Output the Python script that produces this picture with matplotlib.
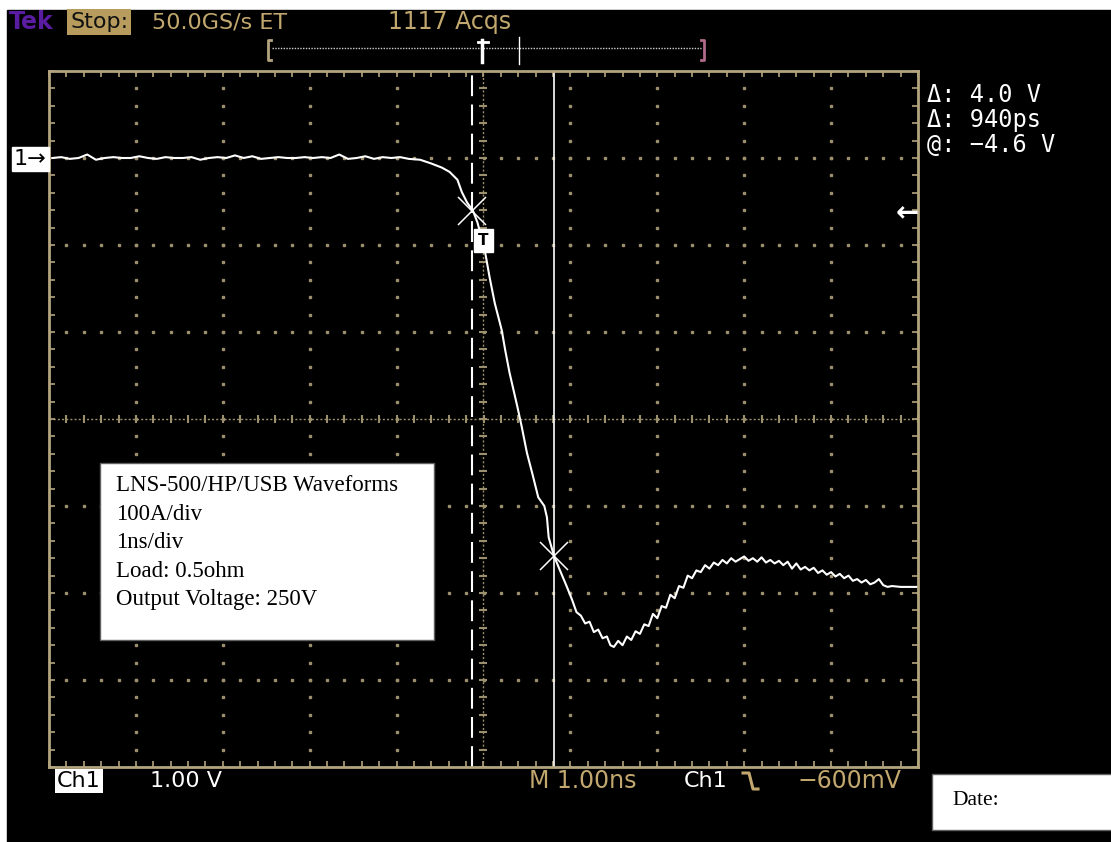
import matplotlib
matplotlib.use("Agg")
import matplotlib.pyplot as plt
from matplotlib.patches import Rectangle
import numpy as np

# waveform: time in ns (1 ns/div), level in V (1 V/div)
t_ns = [-4.96, -4.86, -4.76, -4.66, -4.56, -4.46, -4.36, -4.26, -4.16, -4.06,
        -3.96, -3.86, -3.76, -3.66, -3.56, -3.46, -3.36, -3.26, -3.16, -3.06,
        -2.96, -2.86, -2.76, -2.66, -2.56, -2.46, -2.36, -2.26, -2.16, -2.06,
        -1.96, -1.86, -1.76, -1.66, -1.56, -1.46, -1.36, -1.26, -1.16, -1.06,
        -0.96, -0.86,
        -0.73, -0.61, -0.48, -0.39, -0.30, -0.25, -0.19, -0.12, -0.07, -0.03,
        0.02, 0.07, 0.13, 0.21, 0.25, 0.30, 0.39, 0.44, 0.50, 0.56,
        0.63, 0.70, 0.73, 0.75, 0.81, 0.88, 0.96, 1.02, 1.07, 1.12,
        1.17, 1.22, 1.27, 1.32, 1.37, 1.42, 1.46,
        1.50, 1.55, 1.60, 1.65, 1.70, 1.75, 1.80, 1.85, 1.90, 1.95,
        2.00, 2.05, 2.10, 2.15, 2.20, 2.25, 2.30, 2.35, 2.40, 2.45,
        2.50, 2.55, 2.60, 2.65, 2.70, 2.75, 2.80, 2.85, 2.90, 2.95,
        3.00, 3.05, 3.10, 3.15, 3.20, 3.25, 3.30, 3.35, 3.40, 3.45,
        3.50, 3.55, 3.60, 3.65, 3.70, 3.75, 3.80, 3.85, 3.90, 3.95,
        4.00, 4.05, 4.10, 4.15, 4.20, 4.25, 4.30, 4.35, 4.40, 4.45,
        4.50, 4.55, 4.60, 4.65, 4.70, 4.80, 4.98]
v_volt = [3.00, 3.01, 2.99, 3.00, 3.04, 2.98, 3.00, 3.01, 3.00, 3.00,
          3.02, 3.00, 2.99, 3.01, 3.00, 3.00, 3.01, 2.98, 3.00, 3.01,
          3.00, 3.03, 3.00, 3.02, 2.99, 3.00, 3.01, 3.00, 3.00, 3.01,
          3.00, 3.01, 3.00, 3.04, 2.99, 3.00, 3.02, 2.99, 3.01, 3.00,
          3.01, 2.99,
          2.98, 2.94, 2.89, 2.84, 2.75, 2.61, 2.49, 2.39, 2.26, 2.11,
          1.91, 1.63, 1.33, 1.02, 0.79, 0.53, 0.14, -0.09, -0.39, -0.62,
          -0.90, -1.00, -1.13, -1.36, -1.57, -1.74, -1.93, -2.08, -2.22, -2.26,
          -2.35, -2.33, -2.45, -2.42, -2.52, -2.50, -2.60,
          -2.62, -2.55, -2.60, -2.50, -2.54, -2.44, -2.47, -2.36, -2.38, -2.24,
          -2.29, -2.15, -2.17, -2.02, -2.06, -1.92, -1.94, -1.80, -1.83, -1.74,
          -1.76, -1.68, -1.72, -1.65, -1.68, -1.62, -1.66, -1.60, -1.64, -1.61,
          -1.58, -1.63, -1.60, -1.64, -1.59, -1.65, -1.62, -1.66, -1.63, -1.68,
          -1.64, -1.72, -1.66, -1.73, -1.70, -1.74, -1.71, -1.77, -1.74, -1.79,
          -1.76, -1.81, -1.78, -1.83, -1.80, -1.86, -1.84, -1.88, -1.85, -1.90,
          -1.88, -1.84, -1.91, -1.93, -1.92, -1.93, -1.93]

cursor_t = [-0.13, 0.81]
cursor_v = [2.39, -1.57]

readouts = ["\u0394: 4.0 V", "\u0394: 940ps", "@: \u22124.6 V"]
notes = ["LNS-500/HP/USB Waveforms", "100A/div", "1ns/div",
         "Load: 0.5ohm", "Output Voltage: 250V"]

W, H = 1111, 842
tan = "#b3a47e"
grid_c = "#9c8f6e"
text_tan = "#c2a86e"
scope_font = dict(family="DejaVu Sans")

fig = plt.figure(figsize=(W / 100, H / 100), dpi=100, facecolor="white")

# background layer (pixel coordinates)
bg = fig.add_axes([0, 0, 1, 1], zorder=-1)
bg.set_xlim(0, W)
bg.set_ylim(H, 0)
bg.axis("off")
bg.add_patch(Rectangle((7, 10), W - 7, H - 10, color="black"))

# graticule axes
gl, gr, gt, gb = 49, 918, 71, 767
ax = fig.add_axes([gl / W, 1 - gb / H, (gr - gl) / W, (gb - gt) / H], zorder=1)
ax.set_facecolor("black")
ax.set_xlim(-5, 5)
ax.set_ylim(-4, 4)
for s in ax.spines.values():
    s.set_color(tan)
    s.set_linewidth(2)
ax.set_xticks(np.arange(-5, 5.01, 1))
ax.set_yticks(np.arange(-4, 4.01, 1))
ax.set_xticks(np.arange(-5, 5.01, 0.2), minor=True)
ax.set_yticks(np.arange(-4, 4.01, 0.2), minor=True)
ax.tick_params(which="both", direction="in", colors=tan, top=True, right=True,
               labelbottom=False, labelleft=False, length=4, width=1.2)

minor_pts = np.arange(-4, 4.01, 0.2)
minor_x = np.arange(-5, 5.01, 0.2)
for gx in range(-4, 5):
    if gx == 0:
        continue
    ax.plot(np.full_like(minor_pts, gx), minor_pts, ls="none", marker="s",
            ms=1.5, color=grid_c, zorder=1)
for gy in range(-3, 4):
    if gy == 0:
        continue
    ax.plot(minor_x, np.full_like(minor_x, gy), ls="none", marker="s",
            ms=1.5, color=grid_c, zorder=1)
# centre cross with finer ticks
ax.axhline(0, color=grid_c, lw=1, ls=(0, (1.5, 1.5)), zorder=1)
ax.axvline(0, color=grid_c, lw=1, ls=(0, (1.5, 1.5)), zorder=1)
ax.plot(minor_x, np.zeros_like(minor_x), ls="none", marker="|", ms=6,
        mew=1.5, color=grid_c, zorder=1)
ax.plot(np.zeros_like(minor_pts), minor_pts, ls="none", marker="_", ms=6,
        mew=1.5, color=grid_c, zorder=1)

# cursors
ax.axvline(cursor_t[0], color="white", lw=1.5, ls=(0, (10, 4)), zorder=2)
ax.axvline(cursor_t[1], color="white", lw=1.2, zorder=2)

# trace
ax.plot(t_ns, v_volt, color="white", lw=1.5, zorder=3)
ax.plot(cursor_t, cursor_v, ls="none", marker="x", ms=20, mew=1.1,
        color="white", zorder=4)
ax.text(0.0, 2.05, "T", color="black", fontsize=11, fontweight="bold",
        ha="center", va="center", zorder=5,
        bbox=dict(boxstyle="square,pad=0.25", fc="white", ec="white"))

# overlay for labels and boxes (pixel coordinates)
ov = fig.add_axes([0, 0, 1, 1], zorder=6)
ov.set_xlim(0, W)
ov.set_ylim(H, 0)
ov.axis("off")
ov.patch.set_alpha(0)

# top status line
ov.text(9, 22, "Tek", color="#5a1ca0", fontsize=17, fontweight="bold",
        va="center", **scope_font)
ov.text(70, 22, "Stop:", color="#111111", fontsize=16, va="center",
        bbox=dict(boxstyle="square,pad=0.12", fc="#b89c5e", ec="none"), **scope_font)
ov.text(152, 22, "50.0GS/s ET", color=text_tan, fontsize=16, va="center", **scope_font)
ov.text(388, 22, "1117 Acqs", color=text_tan, fontsize=17, va="center", **scope_font)

# record bar
ov.plot([272, 701], [48, 48], color="#d0d0d0", lw=1, ls=(0, (1, 1)))
ov.plot([271, 268, 268, 271], [40, 40, 60, 60], color=tan, lw=2)
ov.plot([701, 704, 704, 701], [40, 40, 60, 60], color="#b06a8a", lw=2)
ov.plot([519, 519], [37, 64], color="white", lw=1)
ov.plot([482, 482], [40, 62], color="white", lw=2.5)
ov.plot([478, 488], [42, 42], color="white", lw=2)

# channel marker and trigger level arrow
ov.text(14, 159, "1\u2192", color="black", fontsize=16, va="center",
        bbox=dict(boxstyle="square,pad=0.1", fc="white", ec="white"), **scope_font)
ov.text(919, 213, "\u2190", color="white", fontsize=20, fontweight="bold",
        ha="right", va="center")

# readouts on the right
for i, s in enumerate(readouts):
    ov.text(927, 95 + 25 * i, s, color="white", fontsize=17, va="center",
            family="DejaVu Sans Mono")

# bottom status line
ov.text(57, 781, "Ch1", color="black", fontsize=16, va="center",
        bbox=dict(boxstyle="square,pad=0.1", fc="white", ec="none"), **scope_font)
ov.text(150, 781, "1.00 V", color="white", fontsize=16, va="center", **scope_font)
ov.text(529, 781, "M 1.00ns", color=text_tan, fontsize=17, va="center", **scope_font)
ov.text(684, 781, "Ch1", color="white", fontsize=16, va="center", **scope_font)
ov.plot([743, 749, 753, 758], [773, 773, 789, 789], color=text_tan, lw=2.2)
ov.text(797, 781, "\u2212600mV", color=text_tan, fontsize=17, va="center", **scope_font)

# note box
ov.add_patch(Rectangle((100, 463), 334, 177, fc="white", ec="#606060", lw=1))
for i, s in enumerate(notes):
    ov.text(116, 491 + 28.6 * i, s, color="black", fontsize=16.5,
            va="baseline", family="Liberation Serif")

# date box
ov.add_patch(Rectangle((932, 774), 180, 56, fc="white", ec="#606060", lw=1))
ov.text(952, 805, "Date:", color="black", fontsize=15.5, va="baseline",
        family="Liberation Serif")

fig.savefig("out.png", dpi=100, facecolor="white")
